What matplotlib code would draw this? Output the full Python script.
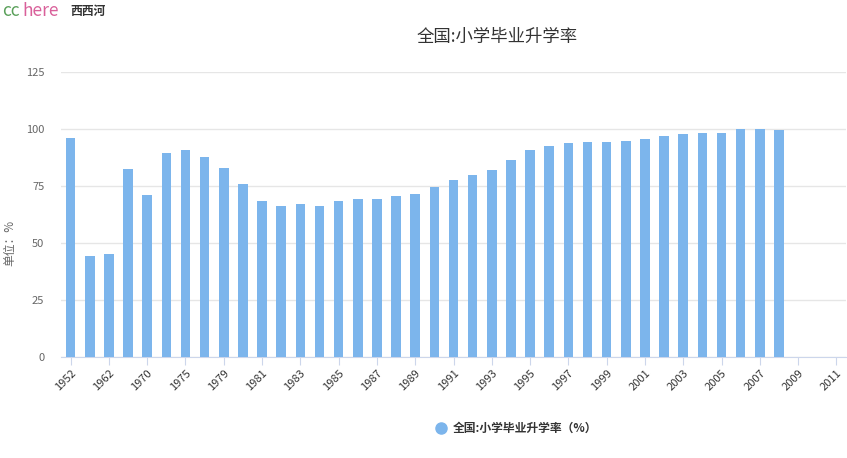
import matplotlib.pyplot as plt
from matplotlib.lines import Line2D
import numpy as np

plt.rcParams['font.family'] = ['Noto Sans CJK SC', 'DejaVu Sans']

years = ['1952', '1957', '1962', '1965', '1970', '1973', '1975', '1978', '1979', '1980',
         '1981', '1982', '1983', '1984', '1985', '1986', '1987', '1988', '1989', '1990',
         '1991', '1992', '1993', '1994', '1995', '1996', '1997', '1998', '1999', '2000',
         '2001', '2002', '2003', '2004', '2005', '2006', '2007', '2008', '2009', '2010', '2011']
rate = [96.0, 44.2, 45.3, 82.5, 71.2, 89.4, 90.6, 87.7, 82.8, 75.9,
        68.3, 66.2, 67.3, 66.2, 68.4, 69.5, 69.1, 70.4, 71.5, 74.6,
        77.7, 79.7, 81.8, 86.6, 90.8, 92.6, 93.7, 94.3, 94.4, 94.9,
        95.5, 97.0, 97.9, 98.1, 98.4, 100.0, 99.9, 99.7, np.nan, np.nan, np.nan]

fig = plt.figure(figsize=(8.47, 4.58), dpi=100)
ax = fig.add_axes([61/847, 1 - 357/458, 785/847, (357 - 72)/458])

x = np.arange(len(years))
ax.bar(x, rate, 0.5, color='#7cb5ec', zorder=3)

ax.set_xlim(-0.5, len(years) - 0.5)
ax.set_ylim(0, 125)
ax.set_yticks(range(0, 126, 25))
ax.yaxis.grid(True, color='#e6e6e6', linewidth=1)
ax.set_axisbelow(True)
for s in ['top', 'right', 'left']:
    ax.spines[s].set_visible(False)
ax.spines['bottom'].set_color('#ccd6eb')
ax.tick_params(axis='y', length=0, labelsize=8, labelcolor='#666666', pad=12)
ax.set_xticks(x[::2])
ax.set_xticklabels(years[::2], rotation=45, ha='right', rotation_mode='anchor')
ax.tick_params(axis='x', length=6, color='#ccd6eb', labelsize=8, labelcolor='#333333', pad=2)

fig.text(10/847, 1 - 243/458, '单位：%', rotation=90, ha='center', va='center',
         fontsize=8.5, color='#666666')

fig.text(497/847, 1 - 37/458, '全国:小学毕业升学率', ha='center', va='center', fontsize=12.5, color='#333333')

fig.text(2/847, 1 - 11/458, 'cc', fontsize=12.5, color='#5aa05a', va='center')
fig.text(22/847, 1 - 11/458, 'here', fontsize=12.5, color='#d9609a', va='center')
fig.text(70/847, 1 - 11/458, '西西河', fontsize=8.5, color='#333333', fontweight='bold', va='center')

fig.add_artist(Line2D([441/847], [1 - 428/458], marker='o', markersize=8, color='#7cb5ec',
                      linestyle='none', transform=fig.transFigure))
fig.text(453/847, 1 - 428/458, '全国:小学毕业升学率（%）', fontsize=8.5, color='#333333',
         fontweight='bold', va='center')

fig.savefig('out.png', dpi=100)
